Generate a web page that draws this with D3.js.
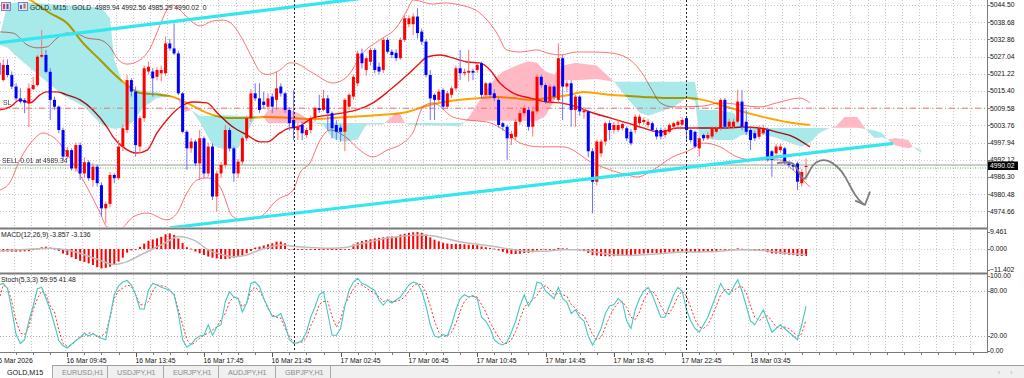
<!DOCTYPE html>
<html>
<head>
<meta charset="utf-8">
<script src="https://cdn.jsdelivr.net/npm/d3@7"></script>
<style>
  html, body { margin: 0; padding: 0; background: #fff; overflow: hidden; }
  svg { display: block; font-family: "Liberation Sans", Arial, sans-serif; }
  text { white-space: pre; }
</style>
</head>
<body>
<svg id="chart" width="1024" height="378"></svg>
<script>
// GOLD M15 candles, [open, high, low, close], one per bar
const bars = [
  [5025.0,5027.0,5020.0,5021.0],[5019.1,5026.1,5018.6,5024.2],[5024.2,5026.1,5020.0,5020.8],[5020.8,5022.0,5016.0,5016.9],
  [5016.9,5018.0,5012.0,5012.9],[5012.9,5016.3,5011.2,5011.8],[5012.3,5013.0,5007.9,5011.5],[5011.2,5018.0,5003.3,5016.3],
  [5016.0,5020.2,5015.8,5017.4],[5017.4,5027.6,5016.9,5027.0],[5027.0,5036.0,5026.5,5027.6],[5027.6,5029.3,5021.4,5021.9],
  [5021.9,5023.1,5005.6,5012.4],[5012.4,5013.5,5009.0,5010.1],[5010.1,5010.5,5001.1,5002.2],[5002.2,5003.0,4992.0,4993.2],
  [4993.2,4996.5,4992.5,4995.4],[4995.4,4996.0,4988.5,4989.2],[4989.2,4998.0,4988.0,4997.1],[4997.1,4998.0,4985.3,4987.5],
  [4987.5,4993.0,4986.0,4991.3],[4991.3,4992.0,4985.0,4985.9],[4985.3,4991.0,4983.0,4989.8],[4989.8,4990.5,4983.0,4984.2],
  [4983.5,4984.5,4972.9,4975.7],[4975.7,4978.0,4970.6,4977.2],[4977.2,4988.0,4976.0,4987.0],[4987.0,4987.6,4984.2,4985.9],
  [4985.9,4998.8,4985.3,4996.6],[4996.6,5004.0,4995.0,5002.8],[5002.2,5020.8,5001.1,5019.1],[5019.1,5019.7,5013.5,5015.2],
  [5015.2,5016.9,4993.2,4997.1],[4996.6,5007.0,4994.3,5006.2],[5006.2,5024.0,5005.0,5023.1],[5022.0,5025.3,5021.0,5023.6],
  [5022.0,5023.1,5013.5,5019.7],[5020.2,5023.5,5019.0,5022.5],[5021.4,5024.0,5018.6,5022.5],[5021.4,5033.8,5020.5,5031.5],
  [5031.5,5033.0,5029.0,5029.8],[5029.8,5038.3,5027.5,5028.1],[5028.1,5029.0,5014.0,5014.6],[5014.6,5015.0,5001.1,5001.6],
  [5001.6,5002.2,4988.7,4996.0],[4996.0,4999.5,4994.5,4998.3],[4998.3,4999.0,4990.0,4990.9],[4990.9,5002.2,4985.3,4999.4],
  [4999.4,5000.0,4986.0,4987.5],[4987.5,4998.0,4986.5,4996.6],[4996.6,4997.7,4978.5,4979.7],[4979.7,4988.5,4974.6,4987.5],
  [4987.5,4991.5,4986.0,4990.4],[4990.4,5003.9,4989.5,5002.2],[5002.2,5003.0,4995.0,4996.0],[4996.0,4996.6,4984.7,4987.5],
  [4987.5,4992.5,4986.0,4991.5],[4991.5,5000.0,4990.5,4999.4],[4999.4,5007.0,4998.5,5006.2],[5006.2,5016.0,5005.0,5014.6],
  [5014.6,5018.0,5012.0,5012.9],[5012.9,5018.0,5008.0,5009.0],[5011.8,5015.2,5009.5,5010.7],[5010.1,5014.6,5009.0,5012.9],
  [5013.5,5014.6,5007.9,5010.1],[5012.4,5021.9,5009.0,5016.3],[5016.9,5018.0,5013.5,5014.6],[5014.6,5015.0,5008.0,5009.0],
  [5009.0,5010.0,5002.0,5004.5],[5005.6,5015.8,4998.8,5002.8],[5002.2,5004.5,4998.8,5003.3],[5003.9,5005.0,4998.8,5001.1],
  [5000.5,5003.0,4999.5,5002.2],[5002.2,5007.0,5001.0,5006.2],[5006.2,5010.1,5005.0,5009.6],[5009.6,5014.1,5008.0,5009.0],
  [5009.0,5015.8,5008.5,5012.9],[5012.9,5014.0,5002.2,5007.9],[5007.9,5008.5,4999.4,5002.8],[5003.9,5005.5,4998.8,5001.6],
  [5003.0,5004.0,4998.2,5001.6],[5001.6,5013.0,4995.0,5012.4],[5010.1,5014.6,5009.0,5014.1],[5013.5,5021.0,5012.5,5020.2],
  [5018.0,5029.0,5017.0,5028.1],[5028.1,5029.8,5023.0,5024.8],[5022.5,5027.0,5020.5,5026.5],[5025.3,5030.0,5024.0,5029.3],
  [5029.3,5030.0,5021.4,5022.5],[5023.6,5025.0,5021.0,5022.0],[5022.5,5033.5,5021.5,5032.7],[5032.7,5033.5,5028.0,5028.7],
  [5028.7,5029.5,5026.5,5027.6],[5028.3,5029.5,5025.5,5026.5],[5026.5,5033.5,5026.0,5032.7],[5032.7,5041.0,5032.0,5040.0],
  [5038.0,5041.0,5037.0,5040.0],[5038.0,5041.7,5034.3,5040.6],[5040.6,5043.4,5033.2,5035.0],[5035.5,5036.5,5031.0,5032.1],
  [5032.1,5033.0,5020.0,5020.8],[5020.8,5022.5,5005.6,5012.9],[5014.1,5014.6,5005.6,5012.4],[5012.4,5016.0,5011.5,5015.2],
  [5015.8,5016.3,5009.0,5010.1],[5010.1,5015.5,5009.5,5014.6],[5014.1,5017.0,5013.0,5016.3],[5016.3,5024.0,5015.5,5023.1],
  [5023.1,5029.3,5019.1,5021.4],[5021.4,5023.0,5020.5,5021.9],[5021.6,5029.3,5018.6,5022.2],[5022.2,5023.0,5019.1,5021.6],
  [5022.5,5025.0,5021.5,5024.2],[5024.8,5025.3,5013.0,5014.1],[5014.1,5018.5,5013.0,5018.0],[5018.0,5018.5,5013.0,5014.1],
  [5014.6,5016.0,5012.0,5013.0],[5012.4,5013.0,5003.0,5003.9],[5004.5,5005.0,5002.0,5003.3],[5003.3,5004.0,4992.1,4999.4],
  [4999.4,5002.0,4997.1,5000.9],[4999.9,5006.0,4998.8,5005.0],[5005.0,5009.0,5004.0,5007.9],[5007.9,5010.5,5007.0,5009.6],
  [5009.0,5010.0,5002.0,5003.3],[5003.3,5010.1,5000.0,5008.5],[5008.5,5021.0,5007.5,5020.2],[5020.2,5021.0,5016.5,5017.4],
  [5017.4,5018.0,5011.0,5011.8],[5011.8,5017.5,5011.0,5016.9],[5016.9,5017.5,5012.5,5013.5],[5012.4,5031.5,5011.2,5026.5],
  [5026.5,5027.6,5005.6,5016.9],[5016.9,5019.0,5015.0,5018.0],[5018.0,5019.0,5003.3,5009.0],[5009.0,5014.0,5003.3,5013.5],
  [5013.5,5014.0,5007.0,5008.5],[5008.2,5010.0,5006.0,5008.8],[5008.5,5009.0,4993.0,4995.0],[4995.0,4996.0,4974.0,4984.7],
  [4984.7,4999.0,4983.5,4998.3],[4994.3,4999.0,4993.0,4998.3],[4998.3,5005.0,4997.0,5004.5],[5004.5,5005.5,4998.8,5002.2],
  [5002.2,5005.0,5001.0,5003.9],[5002.2,5005.5,5001.5,5003.9],[5002.8,5005.0,5002.0,5004.2],[5002.8,5003.5,4998.5,4999.4],
  [5001.6,5002.5,4997.0,4997.7],[5002.2,5007.5,5001.0,5006.7],[5004.5,5007.5,5003.5,5006.7],[5004.9,5006.5,5004.0,5005.6],
  [5003.9,5006.0,5003.0,5005.0],[5004.5,5005.0,5001.5,5002.2],[5002.2,5003.0,4999.0,5000.0],[5002.2,5003.0,4999.0,5000.0],
  [5000.5,5003.0,4999.5,5002.2],[5001.6,5004.5,5001.0,5003.9],[5003.3,5005.0,5002.5,5004.5],[5003.9,5005.5,5003.0,5005.0],
  [5004.0,5006.5,5003.5,5005.6],[5006.2,5006.5,4998.8,5002.2],[5002.2,5003.0,4998.0,4998.8],[5001.6,5002.0,4996.0,4996.6],
  [4996.0,5000.0,4993.2,4999.4],[5000.5,5001.0,4998.5,4999.4],[4999.4,5001.5,4998.8,5000.5],[5000.0,5003.5,4999.0,5002.8],
  [5001.6,5003.5,5001.0,5002.8],[5002.8,5013.0,5002.0,5012.4],[5012.4,5013.0,5002.5,5003.3],[5003.3,5006.0,5002.5,5005.0],
  [5003.3,5006.0,5002.5,5005.0],[5005.0,5015.8,5004.5,5011.8],[5011.8,5015.8,5002.2,5003.3],[5005.0,5009.0,5000.5,5001.6],
  [5002.2,5003.0,4995.4,4998.8],[5001.1,5002.0,4998.5,4999.4],[4999.9,5003.5,4999.0,5002.8],[5001.1,5004.0,5000.5,5002.8],
  [5002.2,5003.0,4991.5,4992.1],[4995.0,4995.5,4986.4,4992.1],[4994.3,4997.5,4993.5,4996.6],[4995.4,4997.5,4994.5,4996.6],
  [4996.0,4996.5,4990.5,4991.5],[4990.9,4991.5,4989.5,4990.4],[4990.4,4991.0,4988.5,4989.8],[4990.9,4991.5,4981.9,4984.7],
  [4984.2,4989.0,4983.0,4988.0],[4989.94,4992.56,4985.29,4990.02]
];

// indicator lines, [bar, price]
const bbUpper = [[0.2,5035.4],[3.3,5035.0],[6.6,5031.0],[8.9,5030.0],[11.2,5030.3],[13.6,5033.3],[15.9,5035.0],[18.3,5034.7],
  [20.6,5033.3],[23.7,5032.7],[26.0,5030.3],[27.9,5026.0],[30.0,5024.5],[33.0,5025.9],[35.4,5029.9],[37.7,5037.7],[39.3,5042.8],
  [40.7,5044.5],[42.4,5042.8],[44.7,5039.4],[47.1,5037.4],[50.1,5039.1],[52.5,5039.4],[54.8,5037.7],[57.1,5032.7],[59.5,5026.0],
  [61.1,5022.0],[62.8,5021.0],[65.8,5022.5],[68.1,5024.9],[68.9,5024.9],[73.5,5021.5],[78.2,5018.1],[81.5,5020.2],[85.2,5028.3],
  [89.2,5032.7],[93.2,5037.1],[95.6,5042.8],[97.0,5046.2],[101.6,5044.8],[104.0,5045.2],[108.0,5044.5],[112.6,5041.8],[116.6,5035.0],
  [118.9,5029.3],[122.0,5028.6],[126.0,5029.3],[128.3,5028.3],[131.4,5027.6],[135.4,5028.6],[139.1,5028.6],[143.1,5028.3],
  [147.1,5026.6],[150.6,5021.5],[152.9,5015.8],[154.8,5011.5],[157.8,5010.0],[164.9,5010.3],[168.9,5011.4],[178.2,5010.0],
  [182.2,5011.4],[187.6,5013.0],[189.9,5011.4]];
const bbMid = [[0.2,5009.0],[2.6,5010.0],[4.9,5012.4],[7.3,5011.4],[9.6,5014.1],[11.2,5015.1],[13.6,5015.1],[15.9,5014.1],
  [19.0,5012.4],[22.0,5009.0],[25.3,5003.2],[26.7,4999.9],[29.0,4996.5],[32.3,4994.4],[34.7,4995.4],[37.0,5001.2],[39.3,5005.6],
  [42.4,5010.0],[45.4,5011.7],[48.7,5011.4],[51.1,5008.0],[54.8,5003.2],[58.1,5000.5],[61.1,4998.2],[62.8,4998.2],[65.8,5001.2],
  [68.1,5002.9],[69.8,5003.2],[73.5,5006.3],[77.5,5007.3],[80.6,5008.0],[83.8,5009.0],[87.6,5011.4],[91.6,5015.8],[95.6,5020.8],
  [98.6,5024.9],[100.2,5026.9],[103.3,5027.6],[106.3,5026.6],[109.6,5025.2],[112.6,5024.9],[115.0,5022.5],[117.3,5018.1],
  [120.4,5014.7],[124.4,5013.0],[128.3,5011.7],[131.4,5011.4],[135.4,5010.0],[138.4,5008.3],[143.1,5006.3],[147.1,5004.6],
  [150.8,5002.9],[154.8,5001.5],[158.8,5002.9],[162.5,5002.9],[166.5,5002.9],[170.5,5002.9],[174.2,5003.2],[178.2,5002.9],
  [182.2,5001.5],[186.0,4999.9],[189.9,4996.5]];
const bbLower = [[0.2,4981.9],[2.6,4984.6],[4.9,4992.1],[8.0,4998.8],[10.3,5001.2],[12.6,4999.9],[18.3,4988.7],[20.6,4982.9],
  [23.7,4974.1],[25.3,4969.4],[28.3,4968.7],[31.4,4972.8],[34.7,4974.1],[39.3,4971.8],[41.7,4974.1],[44.0,4980.9],[46.4,4985.3],
  [48.7,4986.0],[51.8,4982.9],[54.8,4972.8],[57.1,4971.8],[61.1,4972.8],[65.1,4978.5],[68.9,4981.9],[70.5,4987.7],[72.8,4991.0],
  [75.2,4998.8],[77.5,5002.2],[81.5,4999.5],[84.5,4995.4],[87.6,4993.1],[90.9,4995.4],[94.6,4997.8],[97.0,5001.5],[99.3,5010.0],
  [101.6,5011.4],[106.3,5006.6],[109.6,5005.6],[114.3,5004.9],[118.9,5001.5],[122.0,4997.8],[126.7,4996.5],[132.1,4996.5],
  [139.1,4991.0],[143.1,4988.7],[147.1,4987.0],[149.4,4986.3],[153.2,4988.7],[157.8,4993.1],[161.8,4995.4],[164.9,4997.8],
  [168.9,4996.5],[172.8,4993.1],[176.6,4992.1],[182.9,4992.1],[185.2,4989.7],[187.6,4986.3],[189.9,4982.9]];
const maSlow = [[0.2,5051.3],[7.3,5046.2],[11.9,5041.8],[15.9,5038.4],[19.7,5031.6],[23.7,5025.9],[26.7,5021.5],[30.0,5017.4],
  [33.0,5014.7],[37.7,5014.1],[40.7,5013.4],[44.0,5011.4],[48.7,5008.0],[53.4,5006.3],[58.1,5006.3],[62.8,5006.6],[68.1,5006.3],
  [73.5,5005.9],[81.5,5006.6],[89.2,5007.3],[95.6,5008.3],[99.3,5010.0],[103.3,5011.4],[108.0,5012.4],[112.6,5013.0],[116.6,5013.4],
  [120.4,5013.0],[124.4,5012.4],[128.3,5013.0],[133.7,5014.1],[136.8,5015.1],[143.1,5014.1],[150.8,5013.4],[156.4,5013.0],
  [161.1,5013.0],[164.9,5012.4],[170.5,5010.0],[175.2,5008.0],[179.9,5006.3],[184.5,5004.9],[189.9,5003.9]];

// ichimoku cloud, [bar, span A, span B]
const kumo = [[0,5033,5031],[2,5045,5030],[5,5045.5,5026],[10,5045,5020],[15,5044.5,5014],[20,5044,5010],[24,5043.5,5004],
  [26,5040,5003],[27,5026,5002.5],[29,5018,5003],[31,5016,5004.5],[34,5015.5,5010],[37,5015,5013],[40,5014,5013.5],[42,5012.5,5013],
  [43,5008,5011.5],[45,5009,5009],[47,5007,5005],[50,5007,4997],[53,5007.3,4995.5],[56,5007,4996],[58,5007,5001],[60,5007,5006.5],
  [62,5006.5,5007],[63,5004.5,5009],[66,5004.5,5010],[70,5004.6,5008],[73,5004.6,5005.5],[74,5004.6,5004.4],[76,5004.6,5003.8],
  [78,5004.6,4999.5],[81,5004.6,4998.2],[84,5004.6,4999],[86,5004.6,5004],[90,5004.6,5004.1],[91,5004.6,5005.5],[93,5004.6,5008],
  [94,5004.6,5007.5],[95,5004.6,5004.7],[96,5004.6,5004],[108,5004.6,5003.5],[109,5005,5005],[110,5005.5,5006.5],[112,5005.3,5011],
  [116,5005.3,5019.5],[118,5005.3,5022],[122,5005.3,5024.5],[124,5005.3,5025.5],[126,5005.3,5025],[128,5007,5022],[130,5012,5021],
  [132,5019,5024],[135,5019,5025],[140,5019.5,5024],[143,5018.8,5020],[144,5018.6,5018.6],[146,5018.5,5015],[150,5018.5,5008],
  [152,5018.5,5007],[155,5018.5,5008.5],[158,5018.5,5010],[161,5018.5,5013],[163,5018.5,5012],[164,5009,5000],[168,5009,4998.8],
  [172,5008,4998.8],[174,5003,5000.5],[178,5002.9,5001],[182,5002.9,4999.6],[186,5002.9,4997.5],[188,5002.9,4996.5],[190,5002.9,4998],
  [192,5002.9,5001],[194,5002.9,5002.5],[196,5003,5003.5],[198,5003,5006.6],[201,5003,5006.6],[203,5002.5,5002.5],[205,5002,4999.5],
  [207,5001,4999.7],[208,4999,4999],[210,4997,4999.5],[213,4996,4998.8],[214,4996.5,4996.5],[216,4995.5,4994.4]];

// hand drawn objects, [bar, price]
const trendUpper = [[0.2,5031.75],[100,5049.4]];
const trendLower = [[40,4969.1],[209.4,4997.7]];
const forecastPath = [[182.2,4991.0],[186.0,4991.7],[187.1,4988.7],[188.3,4984.6],[189.5,4987.3],[190.6,4990.7],[192.3,4992.1],
  [194.1,4992.1],[196.3,4990.0],[198.1,4987.0],[200.5,4979.6],[202.6,4976.9]];
const forecastHead = [[200.5,4978.3],[202.8,4976.9],[204.0,4981.4]];

const macdHist = [
  -1.3,-1.4,-1.4,-1.5,-1.5,-1.4,-1.3,-1.2,-0.6,0.2, 1.0,1.3,0.8,0.2,-1.0,-2.5,-3.3,-4.6,-5.6,-6.6,
  -7.2,-8.0,-8.9,-10.1,-10.8,-10.5,-9.8,-8.9,-7.0,-4.8, -2.0,-0.8,-0.5,1.2,3.0,4.6,5.3,5.9,6.8,8.2,
  8.7,7.8,5.9,3.3,1.0,0.2,-1.4,-2.4,-3.3,-4.2, -4.8,-5.2,-5.6,-5.6,-5.3,-4.8,-4.3,-3.7,-2.4,-1.1,
  0.8,1.3,1.9,2.6,3.2,4.1,4.1,3.2,-0.3,-0.6, -0.5,-0.5,-0.4,-0.5,-0.6,-0.6,-0.5,-0.4,-0.5,-0.6,
  -0.5,-0.4,-0.2,2.5,3.7,4.4,5.0,5.4,5.9,6.2, 6.5,6.9,7.0,6.9,8.0,8.5,9.0,9.3,9.4,9.0,
  8.0,6.5,5.2,4.3,3.5,3.0,2.8,2.9,2.8,2.6, 2.4,2.3,2.1,1.4,1.0,0.6,0.2,-0.8,-1.6,-2.4,
  -2.8,-2.8,-2.6,-2.2,-2.1,-1.8,-0.8,-0.4,-0.3,-0.2, -0.2,0.6,0.4,0.3,-0.2,-0.5,-0.9,-1.2,-2.2,-3.4,
  -3.6,-3.9,-4.0,-4.1,-4.0,-3.9,-3.7,-3.6,-3.5,-3.0, -2.7,-2.5,-2.3,-2.2,-2.2,-2.2,-2.0,-1.8,-1.6,-1.4,
  -1.2,-1.3,-1.5,-1.8,-1.8,-1.7,-1.6,-1.3,-1.1,-0.3, -0.3,-0.2,-0.1,0.4,0.1,-0.3,-0.8,-1.0,-1.0,-1.0,
  -1.8,-2.4,-2.6,-2.7,-3.0,-3.2,-3.4,-3.9,-3.9,-3.857];
const macdSignal = [[0,-1.1],[6,-0.3],[12,0.4],[16,-0.6],[20,-3.2],[24,-6.6],[27,-8.6],[30,-7.0],[33,-3.5],[36,0],[39,3.5],
  [42,6.9],[44,6.3],[46,4.5],[49,-0.5],[52,-3.0],[55,-4.3],[58,-3.3],[60,-1.5],[63,0.8],[66,2.2],[70,1.3],[74,0.7],[78,0.4],
  [81,0.8],[85,3.1],[89,5.2],[94,6.9],[98,7.8],[101,7.5],[104,6.2],[108,4.0],[112,2.6],[116,1.4],[120,-0.2],[124,-1.3],[128,-1.2],
  [132,-0.4],[136,-0.4],[140,-1.8],[144,-3.2],[148,-3.6],[152,-3.0],[156,-2.4],[160,-1.7],[164,-1.6],[168,-1.4],[172,-0.6],
  [176,-0.4],[180,-1.0],[184,-2.2],[189,-3.136]];

const stochMain = [
  88,90,83,55,22,10,15,40,60,83, 85,70,55,35,14,7,4,9,14,18, 24,20,23,20,17,15,46,75,87,92,
  94,88,75,56,56,81,90,88,85,83, 81,75,50,15,5,9,16,20,21,35, 21,32,35,66,79,72,70,52,64,90,
  92,86,70,58,46,46,50,35,15,10, 11,14,25,45,59,75,79,50,21,21, 30,60,81,92,97,90,88,84,81,68,
  61,68,64,68,72,80,88,92,90,80, 60,35,20,18,22,20,35,55,70,75, 72,74,70,45,40,30,15,10,8,12,
  25,40,60,75,60,70,92,90,80,75, 70,85,70,65,50,55,45,40,20,8, 18,30,50,60,62,70,65,40,30,55,
  70,80,85,75,60,45,45,60,75,85, 80,55,40,30,25,35,45,60,75,90, 80,75,85,95,80,60,40,35,45,55,
  40,25,30,35,30,25,20,15,35,59.95];
const stochSignal = [
  68,88,84,66,40,24,22,32,55,70, 80,75,60,52,28,10,6,8,14,19, 20,24,24,18,20,24,45,70,80,84,
  88,86,75,62,61,66,80,88,87,86, 81,76,55,35,15,8,12,17,21,24, 28,32,42,50,66,72,70,59,64,80,
  85,80,70,56,48,45,44,30,20,11, 11,12,17,34,45,62,66,66,46,32, 42,62,72,83,90,88,84,80,77,72,
  66,68,66,66,68,72,80,87,90,88, 78,60,40,25,20,20,25,37,53,66, 72,73,72,62,52,38,28,18,11,10,
  15,26,42,58,65,68,74,84,87,82, 75,77,75,73,62,57,50,47,35,22, 15,18,32,46,57,64,66,58,45,42,
  52,68,78,80,73,60,50,50,60,73, 80,73,58,42,32,30,35,47,60,75, 82,82,80,85,86,78,60,45,40,45,
  47,40,32,30,32,30,25,20,23,41.48];

const priceTicks = [5044.50,5038.68,5032.86,5027.04,5021.22,5015.40,5009.58,5003.76,4997.94,4992.12,4986.30,4980.48,4974.66];
const macdTicks = [9.461, 0, -11.402];
const stochTicks = [100, 80, 20, 0];
const timeIdx = [-1, 16, 32, 48, 64, 80, 96, 112, 128, 144, 160, 176];
const timeLabels = ["16 Mar 2026","16 Mar 09:45","16 Mar 13:45","16 Mar 17:45","16 Mar 21:45","17 Mar 02:45",
  "17 Mar 06:45","17 Mar 10:45","17 Mar 14:45","17 Mar 18:45","17 Mar 22:45","18 Mar 03:45"];
const daySeparators = [69, 161];
const tabs = ["GOLD,M15","EURUSD,H1","USDJPY,H1","EURJPY,H1","AUDJPY,H1","GBPJPY,H1"];
const bidPrice = 4990.02, orderPrice = 4989.34, stopPrice = 5009.58;

const svg = d3.select("#chart");
const plotR = 987;
const fs = 6.8;

const x = d3.scaleLinear().domain([0, 100]).range([-1, 426]);
const y = d3.scaleLinear().domain([4974.66, 5044.50]).range([211.4, 5]);
const yM = d3.scaleLinear().domain([-11.402, 9.461]).range([269.5, 232]);
const yS = d3.scaleLinear().domain([0, 100]).range([351, 276]);

svg.append("rect").attr("width", 1024).attr("height", 378).attr("fill", "#fff");

const defs = svg.append("defs");
defs.append("clipPath").attr("id", "clipMain").append("rect").attr("x", 0).attr("y", 0).attr("width", plotR).attr("height", 227);
defs.append("clipPath").attr("id", "clipMacd").append("rect").attr("x", 0).attr("y", 230).attr("width", plotR).attr("height", 42);
defs.append("clipPath").attr("id", "clipStoch").append("rect").attr("x", 0).attr("y", 275).attr("width", plotR).attr("height", 77);
defs.append("clipPath").attr("id", "aboveB").append("path")
  .attr("d", d3.area().x(d => x(d[0])).y0(-20).y1(d => y(d[2]))(kumo));
defs.append("clipPath").attr("id", "belowB").append("path")
  .attr("d", d3.area().x(d => x(d[0])).y0(d => y(d[2])).y1(400)(kumo));

// grids
const grid = svg.append("g").attr("stroke", "#c8c8c8").attr("stroke-dasharray", "1,2").attr("stroke-width", 1);
const vgrid = d3.range(0, 58).map(k => x(4 * k + 3.4));
vgrid.forEach(gx => {
  [[0, 227], [230, 272], [275, 351]].forEach(([a, b]) => {
    grid.append("line").attr("x1", Math.round(gx) + 0.5).attr("x2", Math.round(gx) + 0.5).attr("y1", a).attr("y2", b);
  });
});
priceTicks.forEach(p => grid.append("line").attr("x1", 0).attr("x2", plotR)
  .attr("y1", Math.round(y(p)) + 0.5).attr("y2", Math.round(y(p)) + 0.5));
grid.append("line").attr("x1", 0).attr("x2", plotR).attr("y1", Math.round(yM(0)) + 0.5).attr("y2", Math.round(yM(0)) + 0.5);
[80, 20].forEach(v => grid.append("line").attr("x1", 0).attr("x2", plotR)
  .attr("y1", Math.round(yS(v)) + 0.5).attr("y2", Math.round(yS(v)) + 0.5).attr("stroke", "#b0b0b0"));

const main = svg.append("g").attr("clip-path", "url(#clipMain)");
const pline = d3.line().x(d => x(d[0])).y(d => y(d[1])).curve(d3.curveMonotoneX);

main.append("path").attr("d", pline(maSlow)).attr("fill", "none").attr("stroke", "#ffa500").attr("stroke-width", 2);
[bbUpper, bbLower].forEach(s => main.append("path").attr("d", pline(s)).attr("fill", "none")
  .attr("stroke", "#ff0000").attr("stroke-opacity", 0.55).attr("stroke-width", 1));
main.append("path").attr("d", pline(bbMid)).attr("fill", "none").attr("stroke", "#ee1111").attr("stroke-width", 1.4);

// kumo, multiplied over the lines below it
const kArea = d3.area().x(d => x(d[0])).y0(d => y(d[2])).y1(d => y(d[1]));
const kumoG = main.append("g").style("mix-blend-mode", "multiply");
kumoG.append("path").attr("d", kArea(kumo)).attr("fill", "#a8eaea").attr("clip-path", "url(#aboveB)");
kumoG.append("path").attr("d", kArea(kumo)).attr("fill", "#ffb8c4").attr("clip-path", "url(#belowB)");

// horizontal order / stop lines
main.append("line").attr("x1", 0).attr("x2", plotR).attr("y1", y(stopPrice)).attr("y2", y(stopPrice))
  .attr("stroke", "#f07070").attr("stroke-dasharray", "6,3,1,3");
main.append("line").attr("x1", 0).attr("x2", plotR).attr("y1", y(bidPrice) - 1).attr("y2", y(bidPrice) - 1)
  .attr("stroke", "#9a9a9a").attr("stroke-width", 1);
main.append("line").attr("x1", 0).attr("x2", plotR).attr("y1", y(orderPrice)).attr("y2", y(orderPrice))
  .attr("stroke", "#5cb85c").attr("stroke-dasharray", "1,1.5");

// candles
const cg = main.append("g");
bars.forEach((b, i) => {
  const [o, h, l, c] = b;
  const up = c >= o;
  const cx = x(i);
  cg.append("line").attr("x1", cx).attr("x2", cx).attr("y1", y(h)).attr("y2", y(l))
    .attr("stroke", up ? "#ff7070" : "#7070ff").attr("stroke-width", 1);
  const top = y(Math.max(o, c)), bot = y(Math.min(o, c));
  cg.append("rect").attr("x", cx - 1.5).attr("width", 3).attr("y", top).attr("height", Math.max(1, bot - top))
    .attr("fill", up ? "#ff0000" : "#0000ff");
});

// trend lines and forecast sketch
const straight = d3.line().x(d => x(d[0])).y(d => y(d[1]));
[trendUpper, trendLower].forEach(t => main.append("path").attr("d", straight(t))
  .attr("stroke", "#33e6f0").attr("stroke-width", 3.2).attr("fill", "none"));
main.append("path").attr("d", d3.line().x(d => x(d[0])).y(d => y(d[1])).curve(d3.curveBasis)(forecastPath))
  .attr("fill", "none").attr("stroke", "#7d7d7d").attr("stroke-width", 1.8);
main.append("path").attr("d", straight(forecastHead)).attr("fill", "none").attr("stroke", "#7d7d7d").attr("stroke-width", 1.8);

// chart texts
const txt = (g, s, tx, ty, col) => g.append("text").attr("x", tx).attr("y", ty).attr("font-size", fs)
  .attr("xml:space", "preserve").attr("fill", col || "#222").text(s);
txt(main, "SL", 3, y(stopPrice) - 3, "#444");
txt(main, "SELL 0.01 at 4989.34", 2, y(bidPrice) - 3, "#333");

// header icons and text
const ic = svg.append("g");
ic.append("rect").attr("x", 1.5).attr("y", 2.5).attr("width", 9).attr("height", 8).attr("fill", "#f4d0d8").attr("stroke", "#7a8ab0");
ic.append("rect").attr("x", 3).attr("y", 4).attr("width", 2).attr("height", 5).attr("fill", "#d04060");
ic.append("rect").attr("x", 6.5).attr("y", 4).attr("width", 2).attr("height", 5).attr("fill", "#4060c0");
ic.append("rect").attr("x", 18.5).attr("y", 2.5).attr("width", 9).attr("height", 8).attr("fill", "#dfe8f4").attr("stroke", "#7a8ab0");
ic.append("rect").attr("x", 20).attr("y", 5).attr("width", 2).attr("height", 4).attr("fill", "#3b6fc0");
ic.append("rect").attr("x", 23.5).attr("y", 3.5).attr("width", 2).attr("height", 5).attr("fill", "#d06060");
txt(svg, "GOLD, M15:  GOLD  4989.94 4992.56 4985.29 4990.02  0", 30, 9.5, "#222");

// MACD panel
const mg = svg.append("g").attr("clip-path", "url(#clipMacd)");
macdHist.forEach((v, i) => {
  const a = yM(Math.max(0, v)), b = yM(Math.min(0, v));
  mg.append("rect").attr("x", x(i) - 1).attr("width", 2).attr("y", a).attr("height", Math.max(0.8, b - a)).attr("fill", "#ff0000");
});
mg.append("path").attr("d", d3.line().x(d => x(d[0])).y(d => yM(d[1])).curve(d3.curveMonotoneX)(macdSignal))
  .attr("fill", "none").attr("stroke", "#bdbdbd").attr("stroke-width", 1.5);
txt(svg, "MACD(12,26,9) -3.857 -3.136", 1, 237, "#222");

// Stochastic panel
const sg = svg.append("g").attr("clip-path", "url(#clipStoch)");
const sline = d3.line().x((d, i) => x(i)).y(d => yS(d));
sg.append("path").attr("d", sline(stochSignal)).attr("fill", "none").attr("stroke", "#ff3030").attr("stroke-width", 1)
  .attr("stroke-dasharray", "2,2");
sg.append("path").attr("d", sline(stochMain)).attr("fill", "none").attr("stroke", "#45c8c0").attr("stroke-width", 1.1);
txt(svg, "Stoch(5,3,3) 59.95 41.48", 1, 282, "#222");

// day separators through every panel
daySeparators.forEach(i => svg.append("line").attr("x1", Math.round(x(i)) + 0.5).attr("x2", Math.round(x(i)) + 0.5)
  .attr("y1", 0).attr("y2", 352).attr("stroke", "#222").attr("stroke-dasharray", "2,2"));

// panel frames
const fr = svg.append("g").attr("stroke", "#7a7a7a");
fr.append("line").attr("x1", 0).attr("x2", plotR + 1).attr("y1", 228.5).attr("y2", 228.5).attr("stroke-width", 2);
fr.append("line").attr("x1", 0).attr("x2", plotR + 1).attr("y1", 273.5).attr("y2", 273.5).attr("stroke-width", 2);
fr.append("line").attr("x1", 0).attr("x2", plotR + 1).attr("y1", 352.5).attr("y2", 352.5).attr("stroke-width", 1);
fr.append("line").attr("x1", plotR + 0.5).attr("x2", plotR + 0.5).attr("y1", 0).attr("y2", 353).attr("stroke-width", 1);

// right axis labels
const ax = svg.append("g").attr("font-size", fs).attr("fill", "#111");
const axLabel = (v, yy, s) => {
  ax.append("line").attr("x1", plotR).attr("x2", plotR + 3).attr("y1", Math.round(yy) + 0.5).attr("y2", Math.round(yy) + 0.5)
    .attr("stroke", "#7a7a7a");
  ax.append("text").attr("x", plotR + 3).attr("y", yy + 2.4).text(s);
};
priceTicks.forEach(p => axLabel(p, y(p), d3.format(".2f")(p)));
macdTicks.forEach(v => axLabel(v, yM(v), d3.format(".3f")(v)));
stochTicks.forEach(v => axLabel(v, yS(v), d3.format(".2f")(v)));
ax.append("rect").attr("x", plotR + 1).attr("y", y(bidPrice) - 4.5).attr("width", 30).attr("height", 8.5).attr("fill", "#000");
ax.append("text").attr("x", plotR + 3).attr("y", y(bidPrice) + 2.2).attr("fill", "#fff").text(d3.format(".2f")(bidPrice));

// time axis
const tg = svg.append("g").attr("font-size", fs).attr("fill", "#111");
d3.range(0, 58).forEach(k => {
  const tx = Math.round(x(4 * k)) + 0.5;
  tg.append("line").attr("x1", tx).attr("x2", tx).attr("y1", 353).attr("y2", 355).attr("stroke", "#7a7a7a");
});
timeIdx.forEach((i, k) => {
  const tx = Math.round(x(i)) + 0.5;
  tg.append("line").attr("x1", tx).attr("x2", tx).attr("y1", 353).attr("y2", 357).attr("stroke", "#555");
  tg.append("text").attr("x", tx - 1).attr("y", 362.5).text(timeLabels[k]);
});

// symbol tabs
const tb = svg.append("g");
tb.append("rect").attr("x", 0).attr("y", 365).attr("width", 1024).attr("height", 13).attr("fill", "#f0f0f0");
tb.append("line").attr("x1", 0).attr("x2", 1024).attr("y1", 365.5).attr("y2", 365.5).attr("stroke", "#a0a0a0");
const tabEdges = [0, 52, 107, 163, 218, 275, 330];
tabs.forEach((t, k) => {
  const a = tabEdges[k], b = tabEdges[k + 1];
  if (k === 0) tb.append("rect").attr("x", a).attr("y", 365).attr("width", b - a).attr("height", 13).attr("fill", "#fff");
  tb.append("line").attr("x1", b + 0.5).attr("x2", b + 0.5).attr("y1", 366).attr("y2", 378).attr("stroke", "#a8a8a8");
  tb.append("text").attr("x", k === 0 ? a + 7 : a + 10).attr("y", 374.5).attr("font-size", fs + 0.4)
    .attr("fill", k === 0 ? "#111" : "#8a8a8a").text(t);
});
tb.append("text").attr("x", 998).attr("y", 374.5).attr("font-size", 7).attr("fill", "#b0b0b0").text("\u2039");
tb.append("text").attr("x", 1010).attr("y", 374.5).attr("font-size", 7).attr("fill", "#b0b0b0").text("\u203A");
</script>
</body>
</html>
